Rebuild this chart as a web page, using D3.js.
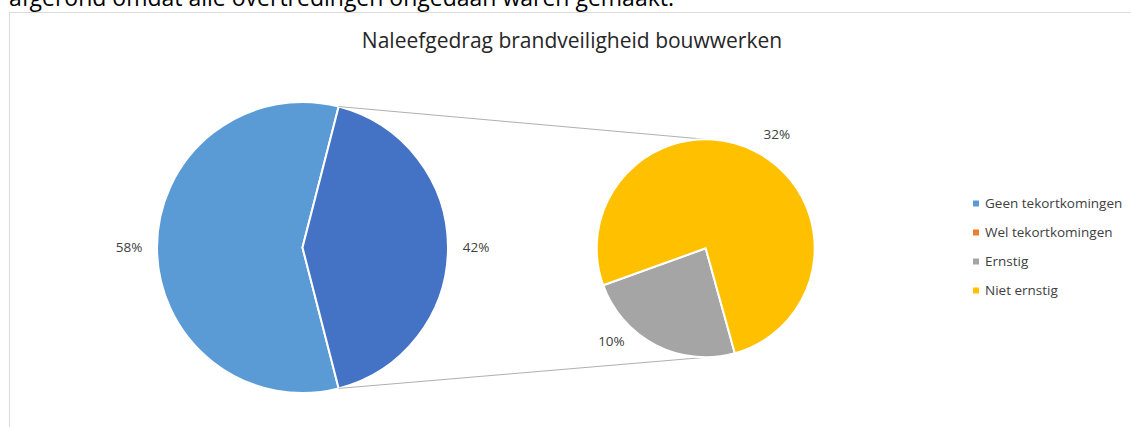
<!DOCTYPE html>
<html>
<head>
<meta charset="utf-8">
<script src="https://cdn.jsdelivr.net/npm/d3@7/dist/d3.min.js"></script>
<style>
  body { margin: 0; background: #fff; }
  svg { display: block; font-family: "Open Sans", Lato, sans-serif; }
</style>
</head>
<body>
<div id="chart"></div>
<script>
// data
const mainCategories = ["Geen tekortkomingen", "Wel tekortkomingen"];
const mainValues = [58, 42];
const subCategories = ["Ernstig", "Niet ernstig"];
const subValues = [10, 32];
const legendLabels = ["Geen tekortkomingen", "Wel tekortkomingen", "Ernstig", "Niet ernstig"];
const titleText = "Naleefgedrag brandveiligheid bouwwerken";
const aboveText = "afgerond omdat alle overtredingen ongedaan waren gemaakt.";

const width = 1131, height = 427;
const deg = Math.PI / 180;

const legendColor = d3.scaleOrdinal()
    .domain(legendLabels)
    .range(["#5B9BD5", "#ED7D31", "#A5A5A5", "#FFC000"]);
// the combined "other" slice in the first pie gets the second accent colour
const mainColor = d3.scaleOrdinal().domain(mainCategories).range(["#5B9BD5", "#4472C4"]);

const svg = d3.select("#chart").append("svg")
    .attr("width", width)
    .attr("height", height);

// text from the document above the chart, cut off by the crop
svg.append("text")
    .attr("x", 9).attr("y", 5.5)
    .style("font-size", "23px").style("fill", "#000")
    .text(aboveText);

// chart frame
svg.append("rect")
    .attr("x", 9.5).attr("y", 12.5)
    .attr("width", width + 20).attr("height", height + 20)
    .attr("fill", "#fff").attr("stroke", "#D9D9D9").attr("stroke-width", 1);

svg.append("text")
    .attr("x", 572).attr("y", 48)
    .attr("text-anchor", "middle")
    .style("font-size", "21px").style("fill", "#262626")
    .text(titleText);

// --- main pie ---
const c1 = { x: 302.5, y: 247.5, r: 145.5 };
const otherShare = mainValues[1] / d3.sum(mainValues);
// the "other" slice is centred on the right side, facing the second pie
const mainStart = Math.PI / 2 + Math.PI * otherShare;
const mainPie = d3.pie().sort(null).value(d => d.value)
    .startAngle(mainStart).endAngle(mainStart + 2 * Math.PI);
const mainArcs = mainPie(mainCategories.map((c, i) => ({ cat: c, value: mainValues[i] })));
const arc1 = d3.arc().innerRadius(0).outerRadius(c1.r);

const g1 = svg.append("g").attr("transform", `translate(${c1.x},${c1.y})`);
g1.selectAll("path").data(mainArcs).join("path")
    .attr("d", arc1)
    .attr("fill", d => mainColor(d.data.cat))
    .attr("stroke", "#fff").attr("stroke-width", 2).attr("stroke-linejoin", "round");

const labelArc1 = d3.arc().innerRadius(c1.r + 28).outerRadius(c1.r + 28);
g1.selectAll("text").data(mainArcs).join("text")
    .attr("transform", d => `translate(${labelArc1.centroid(d)})`)
    .attr("text-anchor", "middle").attr("dy", "0.35em")
    .style("font-size", "13.5px").style("fill", "#404040")
    .text(d => d3.format(".0%")(d.data.value / d3.sum(mainValues)));

// --- second pie ---
const c2 = { x: 705.7, y: 248.3, r: 109 };
const subStart = 164.5 * deg;
const subPie = d3.pie().sort(null).value(d => d.value)
    .startAngle(subStart).endAngle(subStart + 2 * Math.PI);
const subArcs = subPie(subCategories.map((c, i) => ({ cat: c, value: subValues[i] })));
const arc2 = d3.arc().innerRadius(0).outerRadius(c2.r);

// connector lines from the edges of the "other" slice to the top and bottom of the second pie
const other = mainArcs[1];
const edge = (c, a) => [c.x + c.r * Math.sin(a), c.y - c.r * Math.cos(a)];
const connectors = [
    [edge(c1, other.startAngle), edge(c2, 0)],
    [edge(c1, other.endAngle), edge(c2, Math.PI)]
];
svg.selectAll("line.connector").data(connectors).join("line")
    .attr("class", "connector")
    .attr("x1", d => d[0][0]).attr("y1", d => d[0][1])
    .attr("x2", d => d[1][0]).attr("y2", d => d[1][1])
    .attr("stroke", "#A6A6A6").attr("stroke-width", 0.9);

const g2 = svg.append("g").attr("transform", `translate(${c2.x},${c2.y})`);
g2.selectAll("path").data(subArcs).join("path")
    .attr("d", arc2)
    .attr("fill", d => legendColor(d.data.cat))
    .attr("stroke", "#fff").attr("stroke-width", 2).attr("stroke-linejoin", "round");

// best-fit placement nudges the labels a bit along the rim
const subLabelShift = [18 * deg, 4.7 * deg];
const subLabelGap = [23.5, 25];
g2.selectAll("text").data(subArcs).join("text")
    .attr("transform", (d, i) => {
        const a = (d.startAngle + d.endAngle) / 2 + subLabelShift[i];
        const rr = c2.r + subLabelGap[i];
        return `translate(${rr * Math.sin(a)},${-rr * Math.cos(a)})`;
    })
    .attr("text-anchor", "middle").attr("dy", "0.35em")
    .style("font-size", "13.5px").style("fill", "#404040")
    .text(d => d3.format(".0%")(d.data.value / d3.sum(mainValues)));

// --- legend ---
const legendY = d3.scalePoint().domain(legendLabels).range([203.5, 290.5]);
const legend = svg.append("g").selectAll("g").data(legendLabels).join("g")
    .attr("transform", d => `translate(973,${legendY(d)})`);
legend.append("rect")
    .attr("x", 0).attr("y", -3).attr("width", 6).attr("height", 6)
    .attr("fill", d => legendColor(d));
legend.append("text")
    .attr("x", 12).attr("dy", "0.35em")
    .style("font-size", "13.5px").style("fill", "#404040")
    .text(d => d);
</script>
</body>
</html>
